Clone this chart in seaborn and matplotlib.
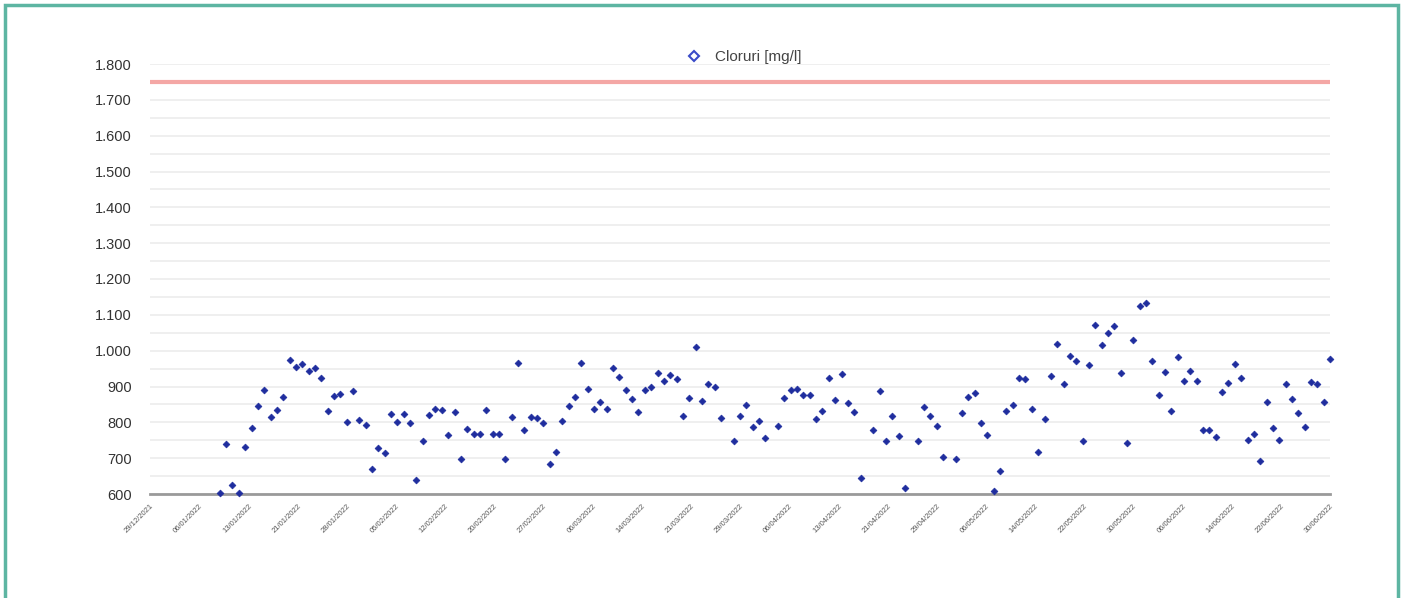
import numpy as np
import pandas as pd
import matplotlib
matplotlib.use("Agg")
import matplotlib.pyplot as plt
import seaborn as sns
from matplotlib.patches import Rectangle
from matplotlib.lines import Line2D
from matplotlib.ticker import FuncFormatter, MultipleLocator

# daily chloride readings (None = no sample / below axis)
cloruri = [
    None, None, None, None, None, None, None, None, None, None, None,
    604, 739, 625, 604, 730, 783, 845, 891, 816, 834,
    871, 974, 955, 963, 942, 953, 924, 833, 873, 880,
    802, 887, 806, 792, 671, 728, 714, 824, 801, 822,
    797, 639, 747, 821, 838, 834, 764, 830, 698, 781,
    767, 767, 834, 767, 767, 698, 814, 965, 779, 815,
    811, 799, 684, 716, 804, 845, 872, 965, 892, 837,
    856, 838, 951, 926, 890, 865, 830, 890, 900, 938,
    916, 931, 920, 819, 867, 1011, 859, 907, 900, 813,
    None, 747, 818, 847, 786, 804, 755, None, 789, 867,
    890, 892, 876, 876, 808, 832, 925, 863, 934, 855,
    828, 644, None, 780, 888, 749, 819, 762, 618, None,
    747, 844, 818, 790, 704, None, 698, 825, 870, 881,
    797, 765, 607, 663, 831, 847, 924, 920, 838, 716,
    810, 928, 1019, 906, 986, 970, 748, 960, 1071, 1016,
    1050, 1069, 938, 742, 1031, 1126, 1134, 970, 875, 941,
    832, 981, 915, 944, 914, 779, 778, 759, 885, 911,
    962, 923, 751, 768, 692, 857, 785, 750, 907, 866,
    826, 786, 912, 906, 857, 976,
]

date_labels = [
    "29/12/2021", "06/01/2022", "13/01/2022", "21/01/2022", "28/01/2022",
    "05/02/2022", "12/02/2022", "20/02/2022", "27/02/2022", "06/03/2022",
    "14/03/2022", "21/03/2022", "29/03/2022", "06/04/2022", "13/04/2022",
    "21/04/2022", "29/04/2022", "06/05/2022", "14/05/2022", "22/05/2022",
    "30/05/2022", "06/06/2022", "14/06/2022", "22/06/2022", "30/06/2022",
]

limite = 1750
series_name = "Cloruri [mg/l]"

df = pd.DataFrame({"giorno": np.arange(len(cloruri)),
                   "valore": pd.to_numeric(pd.Series(cloruri), errors="coerce")})

sns.set_theme(style="white")
plt.rcParams["font.family"] = ["Liberation Sans", "DejaVu Sans"]

fig = plt.figure(figsize=(14.03, 5.98), dpi=100)
ax = fig.add_axes([150 / 1403, 1 - 494 / 598, 1180 / 1403, 430 / 598])

blue = "#1f2d9e"
sns.scatterplot(data=df, x="giorno", y="valore", ax=ax, marker="D", s=12,
                color=blue, edgecolor=blue, linewidth=0.5, clip_on=False,
                zorder=4, legend=False)
ax.axhline(limite, color="#f4a7a5", lw=3, zorder=3)

last = len(cloruri) - 1
ax.set_xlim(0, last)
ax.set_ylim(600, 1800)
ax.set_xlabel("")
ax.set_ylabel("")

ax.yaxis.set_major_locator(MultipleLocator(100))
ax.yaxis.set_minor_locator(MultipleLocator(50))
ax.yaxis.set_major_formatter(FuncFormatter(lambda v, p: f"{int(v):,}".replace(",", ".")))
ax.grid(axis="y", which="both", color="#ececec", lw=1.2)
ax.set_axisbelow(True)
ax.tick_params(axis="y", length=0, pad=13, labelsize=10.5, labelcolor="#333333")

ax.set_xticks(np.linspace(0, last, len(date_labels)))
ax.set_xticklabels(date_labels, rotation=45, ha="right", va="top",
                   fontsize=5.5, color="#555555", rotation_mode="anchor")
ax.tick_params(axis="x", length=0, pad=6)

for side in ["left", "right", "top"]:
    ax.spines[side].set_visible(False)
ax.spines["bottom"].set_color("#9a9a9a")
ax.spines["bottom"].set_linewidth(2)

handle = Line2D([], [], marker="D", linestyle="none", markersize=5,
                markerfacecolor="white", markeredgecolor="#3a4bc8", markeredgewidth=1.5)
ax.legend([handle], [series_name], loc="lower center", bbox_to_anchor=(0.5, 0.985),
          frameon=False, fontsize=11, labelcolor="#444444", handletextpad=0.4,
          borderaxespad=0.0)

fig.patches.append(Rectangle((5 / 1403, -0.05), 1393 / 1403, 1.0 - 5 / 598 + 0.05,
                             transform=fig.transFigure, fill=False,
                             edgecolor="#5db5a2", lw=2.5))

fig.savefig("out.png", dpi=100)
plt.close(fig)
